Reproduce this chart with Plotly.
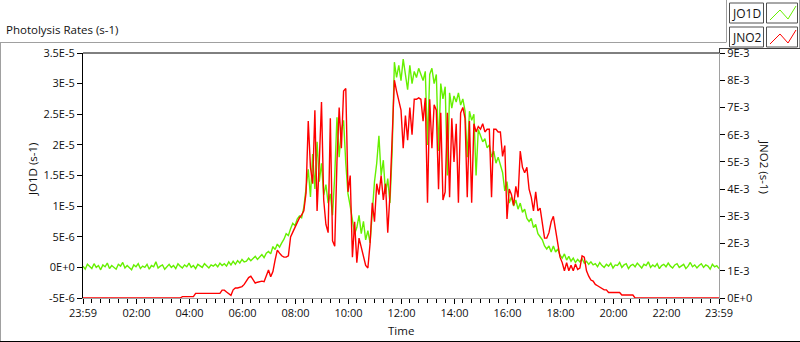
import plotly.graph_objects as go

# ---------------- data ----------------
# samples every 5 minutes from 23:59 (previous day, -1 min) to 23:59 (1439 min)
t_start_min = -1
t_step_min = 5

# JO1D in units of 1E-6 s-1
jo1d_e6 = [
    0.2, -0.3, 0.5, 0.1, -0.2, 0.6, 0.0, 0.3, -0.4, 0.4,
    0.1, 0.7, -0.2, 0.3, 0.0, -0.3, 0.5, 0.2, 0.8, -0.1,
    0.3, 0.0, -0.4, 0.4, 0.1, 0.6, -0.2, 0.2, 0.0, 0.5,
    -0.3, 0.3, 0.1, 0.9, -0.1, 0.2, 0.4, -0.3, 0.1, 0.5,
    0.0, 0.3, -0.2, 0.6, 0.2, -0.1, 0.4, 0.1, 0.7, 0.0,
    0.3, -0.2, 0.5, 0.2, 0.0, 0.6, 0.3, -0.1, 0.4, 0.2,
    0.5, 0.1, 0.7, 0.3, 0.6, 0.2, 0.9, 0.4, 1.0, 0.5,
    1.1, 0.7, 1.3, 0.9, 1.0, 1.5, 1.1, 1.4, 1.8, 1.3,
    1.7, 2.1, 1.6, 2.3, 2.6, 2.2, 3.4, 2.9, 3.8, 3.3,
    4.0, 4.6, 5.5, 5.2, 6.3, 7.2, 6.8, 7.9, 8.4, 8.1,
    9.8, 12.5, 16.0, 11.5, 18.5, 12.8, 20.5, 14.0, 17.0, 11.8,
    13.5, 10.5, 12.0, 8.5, 15.0, 24.5, 18.0, 22.5, 24.0, 17.0,
    12.0, 10.0, 8.0, 5.5, 6.5, 8.5, 5.5, 7.5, 4.5, 6.0,
    4.0, 9.0, 14.0, 17.0, 21.5, 15.0, 17.5, 12.0, 14.5, 10.5,
    19.0, 33.5, 31.0, 33.0, 30.5, 34.0, 31.5, 29.0, 33.0, 30.0,
    32.0, 31.0, 32.5, 31.5, 30.5, 32.0, 20.0, 31.5, 32.5, 30.0,
    31.5, 19.0, 30.0, 27.5, 29.5, 15.0, 28.5, 26.0, 28.0, 27.0,
    28.5, 26.5, 27.5, 25.5, 18.0, 25.5, 24.0, 25.0, 15.0, 22.5,
    21.5, 20.5, 21.0, 19.5, 20.0, 18.0, 19.0, 17.0, 18.0, 16.5,
    15.5, 12.5, 14.0, 10.5, 11.5, 10.0, 11.0, 9.5, 10.5, 9.0,
    9.5, 8.0, 7.5, 8.0, 6.5, 7.0, 5.5, 5.0, 4.5, 3.5,
    3.0, 3.5, 2.5, 3.5, 2.5, 3.0, 2.0, 1.5, 2.2, 1.2,
    1.8, 1.0, 1.5, 0.8, 1.3, 0.9, 1.4, 0.7, 1.0, 0.5,
    0.9, 0.4, 0.6, 0.1, 0.8, 0.3, 0.0, 0.5, 0.2, 0.7,
    -0.1, 0.4, 0.3, 0.8, 0.0, 0.4, 0.6, -0.2, 0.3, 0.5,
    0.1, 0.7, 0.2, -0.1, 0.5, 0.3, 0.9, 0.0, 0.4, 0.1,
    0.6, -0.2, 0.3, 0.5, 0.1, 0.7, 0.2, -0.1, 0.4, 0.6,
    0.0, 0.3, 0.5, -0.2, 0.2, 0.8, 0.1, 0.4, -0.1, 0.3,
    0.6, 0.0, 0.4, 0.2, -0.3, 0.5, 0.1, 0.3, -0.2,
]

# JNO2 in units of 1E-3 s-1
jno2_e3 = [
    0.0, 0.0, 0.0, 0.0, 0.0, 0.0, 0.0, 0.0, 0.0, 0.0,
    0.0, 0.0, 0.0, 0.0, 0.0, 0.0, 0.0, 0.0, 0.0, 0.0,
    0.0, 0.0, 0.0, 0.0, 0.0, 0.0, 0.0, 0.0, 0.0, 0.0,
    0.0, 0.0, 0.0, 0.0, 0.0, 0.0, 0.0, 0.0, 0.0, 0.0,
    0.0, 0.0, 0.0, 0.0, 0.0, 0.05, 0.05, 0.05, 0.05, 0.05,
    0.05, 0.17, 0.17, 0.17, 0.17, 0.17, 0.17, 0.17, 0.17, 0.17,
    0.17, 0.17, 0.17, 0.29, 0.29, 0.22, 0.15, 0.10, 0.30, 0.37,
    0.37, 0.40, 0.42, 0.50, 0.62, 0.75, 0.80, 0.68, 0.55, 0.58,
    0.60, 0.62, 0.60, 0.85, 1.03, 0.78, 0.97, 1.40, 1.76, 1.65,
    1.55, 1.50, 1.50, 1.55, 2.24, 2.42, 2.60, 2.76, 2.94, 3.05,
    3.20, 3.86, 6.5, 4.8, 4.2, 6.9, 3.2, 5.0, 7.2, 3.6,
    2.7, 2.4, 6.6, 2.1, 1.9, 5.0, 7.0, 5.5, 7.6, 7.7,
    3.9, 4.5, 1.5, 2.8, 1.3, 2.2, 1.9, 1.5, 1.2, 1.1,
    2.0, 3.5, 2.8, 4.2, 3.8, 4.5, 3.6, 4.2, 2.4, 3.8,
    6.0, 8.0, 7.6, 7.3, 6.9, 5.5, 6.7, 5.8, 7.0, 6.0,
    7.3, 7.3, 7.35, 7.3, 6.5, 7.35, 3.5, 7.3, 5.5, 7.1,
    6.9, 4.0, 6.8, 3.6, 3.9, 6.8, 3.7, 6.6, 5.0, 6.4,
    3.5, 6.8, 7.0, 6.6, 3.7, 6.5, 3.5, 6.4, 6.1, 6.3,
    6.2, 6.4, 6.1, 6.2, 6.2, 3.7, 6.2, 6.2, 6.1, 6.1,
    5.2, 5.6, 2.9, 4.0, 3.8, 3.4, 4.1, 3.7, 5.4, 4.8,
    4.6, 4.8, 4.0, 3.7, 3.2, 3.9, 3.2, 3.3, 2.8, 2.2,
    2.2, 2.4, 2.8, 3.0, 2.5, 2.0, 1.5, 1.3, 1.0, 1.3,
    1.0, 1.2, 1.0, 1.25, 1.05, 1.1, 1.55, 1.5, 1.0, 0.8,
    0.66, 0.62, 0.5, 0.45, 0.40, 0.35, 0.30, 0.30, 0.20, 0.20,
    0.20, 0.20, 0.20, 0.20, 0.11, 0.11, 0.11, 0.11, 0.11, 0.11,
    0.0, 0.0, 0.0, 0.0, 0.0, 0.0, 0.0, 0.0, 0.0, 0.0,
    0.0, 0.0, 0.0, 0.0, 0.0, 0.0, 0.0, 0.0, 0.0, 0.0,
    0.0, 0.0, 0.0, 0.0, 0.0, 0.0, 0.0, 0.0, 0.0, 0.0,
    0.0, 0.0, 0.0, 0.0, 0.0, 0.0, 0.0, 0.0, 0.0,
]

x_tick_vals = [-1, 120, 240, 360, 480, 600, 720, 840, 960, 1080, 1200, 1320, 1439]
x_tick_text = ["23:59", "02:00", "04:00", "06:00", "08:00", "10:00", "12:00",
               "14:00", "16:00", "18:00", "20:00", "22:00", "23:59"]
y1_tick_vals = [-5e-6, 0, 5e-6, 1e-5, 1.5e-5, 2e-5, 2.5e-5, 3e-5, 3.5e-5]
y1_tick_text = ["-5E-6", "0E+0", "5E-6", "1E-5", "1.5E-5", "2E-5", "2.5E-5", "3E-5", "3.5E-5"]
y2_tick_vals = [0, 1e-3, 2e-3, 3e-3, 4e-3, 5e-3, 6e-3, 7e-3, 8e-3, 9e-3]
y2_tick_text = ["0E+0", "1E-3", "2E-3", "3E-3", "4E-3", "5E-3", "6E-3", "7E-3", "8E-3", "9E-3"]

# ---------------- derived ----------------
times = [t_start_min + t_step_min * i for i in range(len(jo1d_e6))]
jo1d = [v * 1e-6 for v in jo1d_e6]
jno2 = [v * 1e-3 for v in jno2_e3]

# ---------------- layout geometry ----------------
W, H = 800, 342
L, R, T, B = 83, 719, 53, 298
FONT = "Open Sans"
TXT = "#111111"
GREEN = "#66f000"
RED = "#ff0000"
GRAY = "#a0a0a0"


def px(x):
    return (x - L) / (R - L)


def py(y):
    return (B - y) / (B - T)


fig = go.Figure()
fig.add_trace(go.Scatter(x=times, y=jo1d, mode="lines", name="JO1D",
                         line=dict(color=GREEN, width=1.4),
                         yaxis="y", hoverinfo="skip"))
fig.add_trace(go.Scatter(x=times, y=jno2, mode="lines", name="JNO2",
                         line=dict(color=RED, width=1.4),
                         yaxis="y2", hoverinfo="skip"))

fig.update_layout(
    width=W, height=H,
    margin=dict(l=L, r=W - R, t=T, b=H - B, pad=0),
    paper_bgcolor="white", plot_bgcolor="white",
    showlegend=False,
    hovermode=False,
    font=dict(family=FONT, size=11, color=TXT),
    xaxis=dict(range=[-1, 1439], tickmode="array", tickvals=x_tick_vals, ticktext=x_tick_text,
               showgrid=False, zeroline=False, showline=True, linecolor=GRAY, linewidth=1,
               ticks="outside", ticklen=5, tickcolor="black", tickwidth=1,
               minor=dict(tickmode="linear", tick0=-1, dtick=20, ticks="outside", ticklen=4,
                          tickcolor="black", tickwidth=1, showgrid=False),
               tickfont=dict(family=FONT, size=11, color=TXT)),
    yaxis=dict(range=[-5e-6, 3.5e-5], tickmode="array", tickvals=y1_tick_vals, ticktext=y1_tick_text,
               showgrid=False, zeroline=False, showline=True, linecolor="black", linewidth=1,
               ticks="outside", ticklen=5, tickcolor="black",
               tickfont=dict(family=FONT, size=11, color=TXT)),
    yaxis2=dict(range=[0, 9e-3], overlaying="y", side="right", anchor="x",
                tickmode="array", tickvals=y2_tick_vals, ticktext=y2_tick_text,
                showgrid=False, zeroline=False, showline=True, linecolor=GRAY, linewidth=1,
                ticks="outside", ticklen=5, tickcolor="black",
                tickfont=dict(family=FONT, size=11, color=TXT)),
)

shapes = []
# plot frame top (black)
shapes.append(dict(type="line", xref="paper", yref="paper", x0=px(L), x1=px(R), y0=py(T), y1=py(T),
                   line=dict(color="black", width=1)))
# outer panel lines
shapes.append(dict(type="line", xref="paper", yref="paper", x0=px(0), x1=px(726), y0=py(42.5), y1=py(42.5),
                   line=dict(color=GRAY, width=1)))
shapes.append(dict(type="line", xref="paper", yref="paper", x0=px(0.5), x1=px(0.5), y0=py(42.5), y1=py(342),
                   line=dict(color=GRAY, width=1)))
shapes.append(dict(type="line", xref="paper", yref="paper", x0=px(0), x1=px(800), y0=py(341.5), y1=py(341.5),
                   line=dict(color="black", width=1)))
shapes.append(dict(type="line", xref="paper", yref="paper", x0=px(726.5), x1=px(726.5), y0=py(0), y1=py(42.5),
                   line=dict(color=GRAY, width=1)))
shapes.append(dict(type="line", xref="paper", yref="paper", x0=px(799.5), x1=px(799.5), y0=py(0), y1=py(48.5),
                   line=dict(color=GRAY, width=1)))
shapes.append(dict(type="line", xref="paper", yref="paper", x0=px(719), x1=px(800), y0=py(48.5), y1=py(48.5),
                   line=dict(color="#404040", width=1)))
shapes.append(dict(type="line", xref="paper", yref="paper", x0=px(719.5), x1=px(719.5), y0=py(48.5), y1=py(T),
                   line=dict(color="#404040", width=1)))

# legend boxes
for (top, col) in [(3, GREEN), (27, RED)]:
    bot = top + 20
    shapes.append(dict(type="rect", xref="paper", yref="paper", x0=px(729.5), x1=px(763.5),
                       y0=py(bot), y1=py(top), line=dict(color="#505050", width=1), fillcolor="white"))
    shapes.append(dict(type="rect", xref="paper", yref="paper", x0=px(766.5), x1=px(797.5),
                       y0=py(bot), y1=py(top), line=dict(color="#505050", width=1), fillcolor="white"))
    pts = [(770, bot - 3), (780, top + 7), (788, bot - 4), (796, top + 3)]
    path = "M " + " L ".join(f"{px(a)},{py(b)}" for a, b in pts)
    shapes.append(dict(type="path", xref="paper", yref="paper", path=path,
                       line=dict(color=col, width=1)))
fig.update_layout(shapes=shapes)

ann = []
ann.append(dict(text="Photolysis Rates (s-1)", x=px(4), y=py(30), xref="paper", yref="paper",
                xanchor="left", yanchor="middle", showarrow=False,
                font=dict(family=FONT, size=11.5, color=TXT)))
ann.append(dict(text="JO1D (s-1)", x=px(32), y=py(170), xref="paper", yref="paper",
                xanchor="center", yanchor="middle", showarrow=False, textangle=-90,
                font=dict(family=FONT, size=11.5, color=TXT)))
ann.append(dict(text="JNO2 (s-1)", x=px(765), y=py(167), xref="paper", yref="paper",
                xanchor="center", yanchor="middle", showarrow=False, textangle=90,
                font=dict(family=FONT, size=11.5, color=TXT)))
ann.append(dict(text="Time", x=px(401), y=py(330), xref="paper", yref="paper",
                xanchor="center", yanchor="middle", showarrow=False,
                font=dict(family=FONT, size=11.5, color=TXT)))
ann.append(dict(text="JO1D", x=px(746.5), y=py(13), xref="paper", yref="paper",
                xanchor="center", yanchor="middle", showarrow=False,
                font=dict(family=FONT, size=12, color=TXT)))
ann.append(dict(text="JNO2", x=px(746.5), y=py(37), xref="paper", yref="paper",
                xanchor="center", yanchor="middle", showarrow=False,
                font=dict(family=FONT, size=12, color=TXT)))
fig.update_layout(annotations=ann)

fig.write_html("out.html",
               config={"displayModeBar": False, "staticPlot": True},
               post_script="document.body.style.margin='0';document.body.style.overflow='hidden';")
